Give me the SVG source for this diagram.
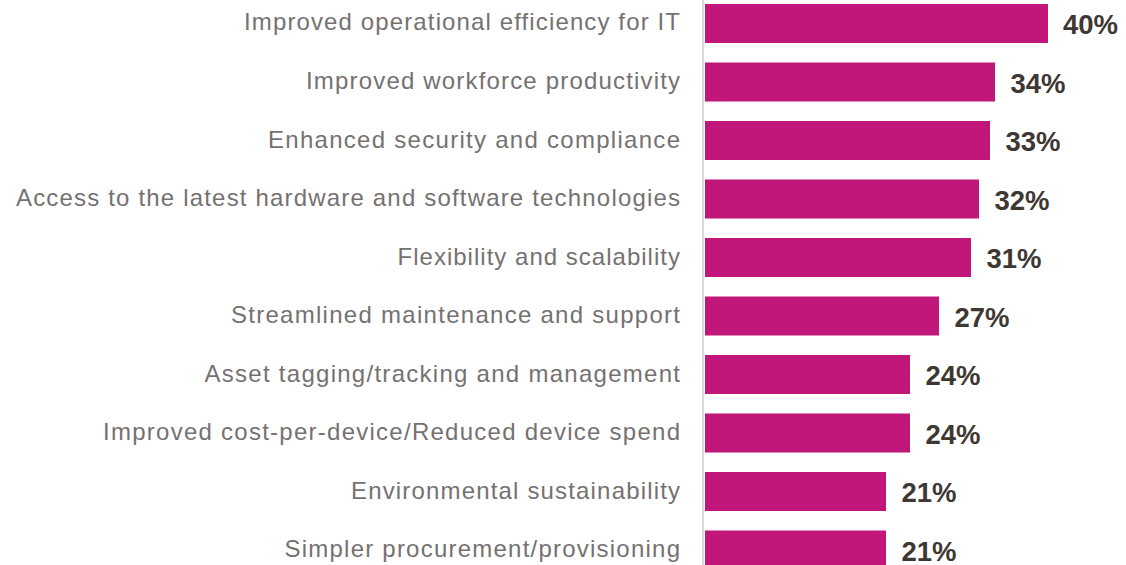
<svg xmlns="http://www.w3.org/2000/svg" width="1126" height="565" viewBox="0 0 1126 565">
<style>
.bar{fill:#C2177A;}
.lbl{font-family:"Liberation Sans",Arial,sans-serif;font-size:24px;fill:#767171;}
.val{font-family:"Liberation Sans",Arial,sans-serif;font-size:27.5px;font-weight:bold;fill:#3F3832;}
.axis{stroke:#D9D9D9;stroke-width:2;}
</style>
<rect width="1126" height="565" fill="#FFFFFF"/>
<g id="axis"><line class="axis" x1="703" y1="0" x2="703" y2="565"/></g>
<g id="row1"><text class="lbl" x="244" y="30" textLength="436" lengthAdjust="spacing">Improved operational efficiency for IT</text><rect class="bar" x="705" y="4" width="343" height="39"/><text class="val" x="1063" y="34">40%</text></g>
<g id="row2"><text class="lbl" x="306" y="89" textLength="374" lengthAdjust="spacing">Improved workforce productivity</text><rect class="bar" x="705" y="62.5" width="290" height="39"/><text class="val" x="1010.5" y="92.5">34%</text></g>
<g id="row3"><text class="lbl" x="268" y="147.5" textLength="412" lengthAdjust="spacing">Enhanced security and compliance</text><rect class="bar" x="705" y="121" width="285" height="39"/><text class="val" x="1005.5" y="151">33%</text></g>
<g id="row4"><text class="lbl" x="16" y="206" textLength="664" lengthAdjust="spacing">Access to the latest hardware and software technologies</text><rect class="bar" x="705" y="179.5" width="274" height="39"/><text class="val" x="994.5" y="209.5">32%</text></g>
<g id="row5"><text class="lbl" x="397.5" y="264.5" textLength="282.5" lengthAdjust="spacing">Flexibility and scalability</text><rect class="bar" x="705" y="238" width="266" height="39"/><text class="val" x="986.5" y="268">31%</text></g>
<g id="row6"><text class="lbl" x="231" y="323" textLength="449" lengthAdjust="spacing">Streamlined maintenance and support</text><rect class="bar" x="705" y="296.5" width="234" height="39"/><text class="val" x="954.5" y="326.5">27%</text></g>
<g id="row7"><text class="lbl" x="204.5" y="381.5" textLength="475.5" lengthAdjust="spacing">Asset tagging/tracking and management</text><rect class="bar" x="705" y="355" width="205" height="39"/><text class="val" x="925.5" y="385">24%</text></g>
<g id="row8"><text class="lbl" x="103" y="440" textLength="577" lengthAdjust="spacing">Improved cost-per-device/Reduced device spend</text><rect class="bar" x="705" y="413.5" width="205" height="39"/><text class="val" x="925.5" y="443.5">24%</text></g>
<g id="row9"><text class="lbl" x="351" y="498.5" textLength="329" lengthAdjust="spacing">Environmental sustainability</text><rect class="bar" x="705" y="472" width="181" height="39"/><text class="val" x="901.5" y="502">21%</text></g>
<g id="row10"><text class="lbl" x="284.5" y="557" textLength="395.5" lengthAdjust="spacing">Simpler procurement/provisioning</text><rect class="bar" x="705" y="530.5" width="181" height="39"/><text class="val" x="901.5" y="560.5">21%</text></g>
<g id="connectors"></g>
</svg>
